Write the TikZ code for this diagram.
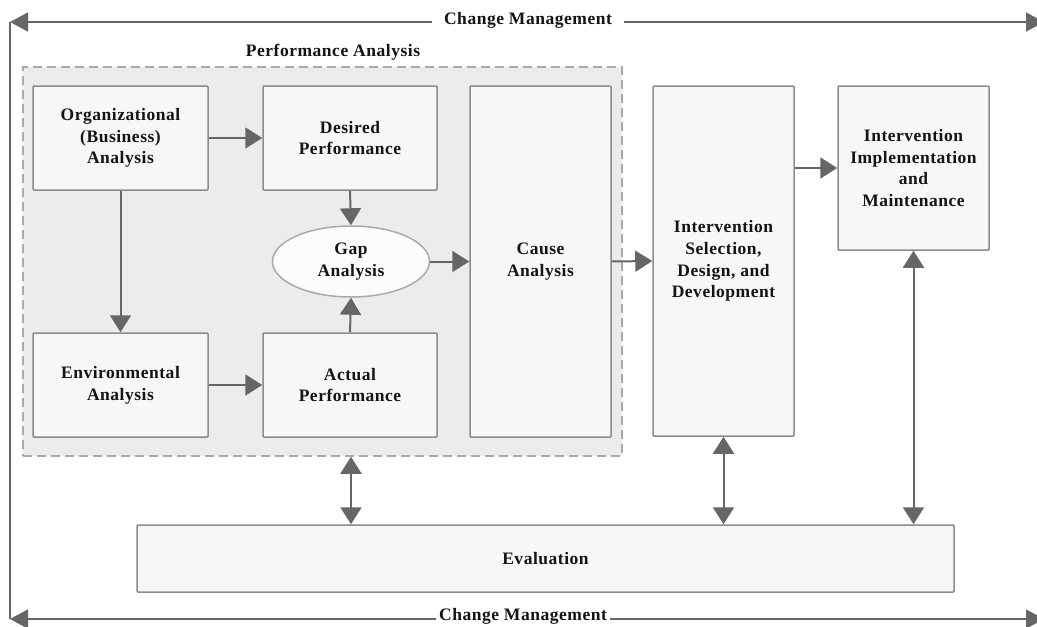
\documentclass[tikz,border=0pt]{standalone}
\usepackage{fontspec}
\setmainfont{Liberation Serif}[LetterSpace=3]
\usetikzlibrary{arrows.meta,shapes.geometric,calc}
\definecolor{boxfill}{HTML}{F7F7F7}
\definecolor{boxline}{HTML}{8C8C8C}
\definecolor{pafill}{HTML}{ECECEC}
\definecolor{paline}{HTML}{AAAAAA}
\definecolor{arr}{HTML}{666666}
\definecolor{txt}{HTML}{141414}
\tikzset{
  lbl/.style={font=\fontsize{17.5}{21.7}\selectfont\bfseries, text=txt, align=center},
  box/.style={lbl, draw=boxline, fill=boxfill, line width=1.5pt, rectangle, rounded corners=1pt, inner sep=0pt},
  flow/.style={draw=arr, line width=2pt, -{Triangle[length=17pt,width=21pt]}},
  both/.style={draw=arr, line width=2pt, {Triangle[length=17pt,width=21pt]}-{Triangle[length=17pt,width=21pt]}},
  frame/.style={draw=arr, line width=1.6pt},
  framearr/.style={frame, -{Triangle[length=18pt,width=19pt]}}
}
\begin{document}
\begin{tikzpicture}[x=1pt,y=-1pt]
\useasboundingbox (0,0) rectangle (1037,627);
\fill[white] (0,0) rectangle (1037,627);
% change management frame
\coordinate (TL) at (10,22);
\coordinate (BL) at (10,619);
\coordinate (TR) at (1044,22);
\coordinate (BR) at (1044,619);
\node[lbl, inner xsep=12pt, inner ysep=0pt] (cmtop) at (528,20) {Change Management};
\node[lbl, inner xsep=3pt, inner ysep=0pt] (cmbot) at (523,616) {Change Management};
\draw[frame] (TL) -- (BL);
\draw[framearr] (cmtop.west |- TL) -- (TL);
\draw[framearr] (cmtop.east |- TR) -- (TR);
\draw[framearr] (cmbot.west |- BL) -- (BL);
\draw[framearr] (cmbot.east |- BR) -- (BR);
% performance analysis container
\node[draw=paline, fill=pafill, dashed, dash pattern=on 9pt off 5pt, line width=1.5pt, minimum width=599pt, minimum height=389pt, inner sep=0pt] (pa) at (322.5,261.5) {};
\node[lbl] (patitle) at (333,52) {Performance Analysis};
% boxes
\node[box, minimum width=175pt, minimum height=104pt] (org) at (120.5,138) {Organizational\\(Business)\\Analysis};
\node[box, minimum width=174pt, minimum height=104pt] (des) at (350,138) {Desired\\Performance};
\node[box, minimum width=175pt, minimum height=104pt] (env) at (120.5,385) {Environmental\\Analysis};
\node[box, minimum width=174pt, minimum height=104pt] (act) at (350,385) {Actual\\Performance};
\node[lbl, ellipse, draw=paline, fill=white!60!boxfill, line width=1.5pt, minimum width=157pt, minimum height=71pt, inner sep=0pt] (gap) at (351,261.5) {Gap\\Analysis};
\node[box, minimum width=141pt, minimum height=351pt] (cause) at (540.5,261.5) {Cause\\Analysis};
\node[box, minimum width=141pt, minimum height=350pt] (isel) at (723.5,261) {Intervention\\Selection,\\Design, and\\Development};
\node[box, minimum width=151pt, minimum height=164pt] (impl) at (913.5,168) {Intervention\\Implementation\\and\\Maintenance};
\node[box, minimum width=817pt, minimum height=67pt] (eval) at (545.5,558.5) {Evaluation};
% connectors
\draw[flow] (org.east) -- (des.west);
\draw[flow] (org.south) -- (env.north);
\draw[flow] (env.east) -- (act.west);
\draw[flow] (des.south) -- (gap.north);
\draw[flow] (act.north) -- (gap.south);
\draw[flow] (gap.east) -- (cause.west);
\draw[flow] (cause.east) -- (isel.west);
\draw[flow] (isel.east |- impl.west) -- (impl.west);
\draw[both] (gap |- pa.south) -- (gap |- eval.north);
\draw[both] (isel.south) -- (isel |- eval.north);
\draw[both] (impl.south) -- (impl |- eval.north);
\end{tikzpicture}
\end{document}
